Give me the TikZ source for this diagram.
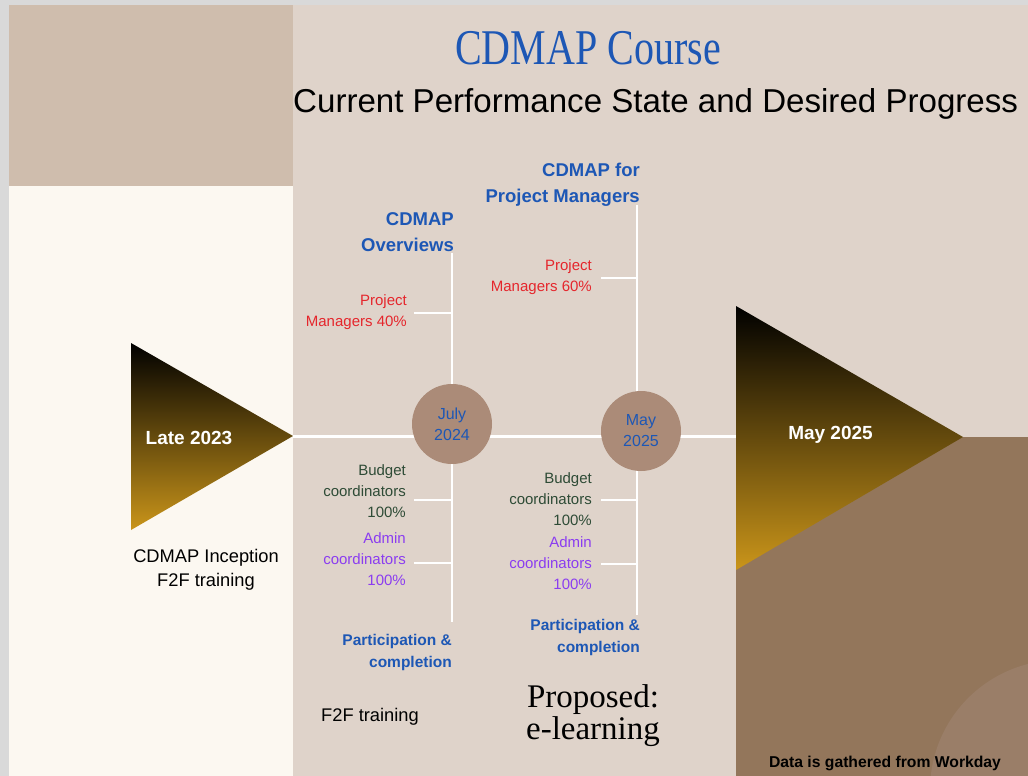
\documentclass[tikz,border=0pt]{standalone}
\usepackage{fontspec}
\setmainfont{Liberation Sans}
\newfontfamily\displayserif{Liberation Serif}
\usepackage{xcolor}
\usepackage{tikz}
\definecolor{pagegray}{HTML}{D9D9D9}
\definecolor{taupe}{HTML}{CFBDAD}
\definecolor{cream}{HTML}{FCF8F1}
\definecolor{sand}{HTML}{DFD3CA}
\definecolor{mocha}{HTML}{93765B}
\definecolor{mochalight}{HTML}{9A7E68}
\definecolor{dot}{HTML}{AB8B78}
\definecolor{gold}{HTML}{CA951A}
\definecolor{cblue}{HTML}{1D57B5}
\definecolor{cred}{HTML}{E5262C}
\definecolor{cgreen}{HTML}{2E4B36}
\definecolor{cpurple}{HTML}{8B3DF0}

\begin{document}
\begin{tikzpicture}[x=1pt,y=-1pt,
  spine/.style={white,line width=3pt},
  twig/.style={white,line width=2pt},
  wedge/.style={top color=black,bottom color=gold},
  course/.style={font=\bfseries\fontsize{18.5}{26}\selectfont,text=cblue,align=right,anchor=east,inner sep=0pt},
  tally/.style={font=\bfseries\fontsize{15.5}{22}\selectfont,text=cblue,align=right,anchor=east,inner sep=0pt},
  metric/.style={font=\fontsize{15}{21}\selectfont,align=right,anchor=east,inner sep=0pt},
  milestone/.style={circle,fill=dot,minimum size=80pt,inner sep=0pt,align=center,text=cblue,font=\fontsize{16}{21}\selectfont},
  goal/.style={font=\bfseries\fontsize{19}{22}\selectfont,text=white,inner sep=0pt},
  remark/.style={font=\fontsize{18.3}{24}\selectfont,align=center,inner sep=0pt}]
% panels
\fill[pagegray] (0,0) rectangle (1028,776);
\fill[taupe] (9,5) rectangle (293,186);
\fill[cream] (9,186) rectangle (293,776);
\fill[sand] (293,5) rectangle (1028,776);
\begin{scope}
\clip (736,437) rectangle (1028,776);
\fill[mocha] (736,437) rectangle (1028,776);
\fill[mochalight] (1060,790) circle (130);
\end{scope}
\shade[wedge] (131,343) -- (293,436) -- (131,530) -- cycle;
\shade[wedge] (736,306) -- (963,437) -- (736,570) -- cycle;

\path (455,64) node(ttl) [anchor=base west,inner sep=0pt,text=cblue,font=\displayserif\fontsize{50}{56}\selectfont] {\scalebox{0.8}[1]{CDMAP Course}}
(293,112) node(sub) [anchor=base west,inner sep=0pt,font=\fontsize{33.1}{36}\selectfont] {Current Performance State and Desired Progress};

% timeline
\coordinate (tipL) at (293,436);
\coordinate (baseR) at (736,436);
\coordinate (ovfoot) at (452,253);
\coordinate (ovend) at (452,622);
\coordinate (pmfoot) at (636.5,205);
\coordinate (pmend) at (636.5,615);
\draw[spine] (tipL) -- (baseR);
\draw[twig] (ovfoot) -- (ovend);
\draw[twig] (pmfoot) -- (pmend);

\path (454,232) node(ov) [course] {CDMAP\\Overviews}
(640,185) node(pm) [course] {CDMAP for\\Project Managers}
(407,312.5) node(pm40) [metric,text=cred] {Project\\Managers 40\%}
(592,277.5) node(pm60) [metric,text=cred] {Project\\Managers 60\%}
(406,491.5) node(bud1) [metric,text=cgreen] {Budget\\coordinators\\100\%}
(592,499.5) node(bud2) [metric,text=cgreen] {Budget\\coordinators\\100\%}
(406,559) node(adm1) [metric,text=cpurple] {Admin\\coordinators\\100\%}
(592,563.5) node(adm2) [metric,text=cpurple] {Admin\\coordinators\\100\%}
(452,652) node(part1) [tally] {Participation \&\\completion}
(640,637.5) node(part2) [tally] {Participation \&\\completion};

\draw[twig] ([xshift=7pt]pm40.east) -- (pm40.east -| ovfoot);
\draw[twig] ([shift={(8,8.5)}]bud1.east) -- ++(38,0);
\draw[twig] ([shift={(8,4)}]adm1.east) -- ++(38,0);
\draw[twig] ([xshift=9pt]pm60.east) -- (pm60.east -| pmfoot);
\draw[twig] ([xshift=9pt]bud2.east) -- (bud2.east -| pmfoot);
\draw[twig] ([xshift=9pt]adm2.east) -- (adm2.east -| pmfoot);

\node(jul) [milestone] at (452,424) {July\\2024};
\node(may) [milestone] at (641,431) {May\\2025};

\node(late) [goal] at (189,437.5) {Late 2023};
\node(end) [goal] at (830.5,435) {May 2025};
\node(incep) [remark] at (206,570) {CDMAP Inception\\F2F training};
\node(f2f) [remark,anchor=west] at (321,717) {F2F training};
\node(prop) [align=center,inner sep=0pt,font=\displayserif\fontsize{33}{32}\selectfont] at (593,716) {Proposed:\\e-learning};
\node(src) [inner sep=0pt,font=\bfseries\fontsize{15.7}{18}\selectfont] at (885,763) {Data is gathered from Workday};
\end{tikzpicture}
\end{document}
